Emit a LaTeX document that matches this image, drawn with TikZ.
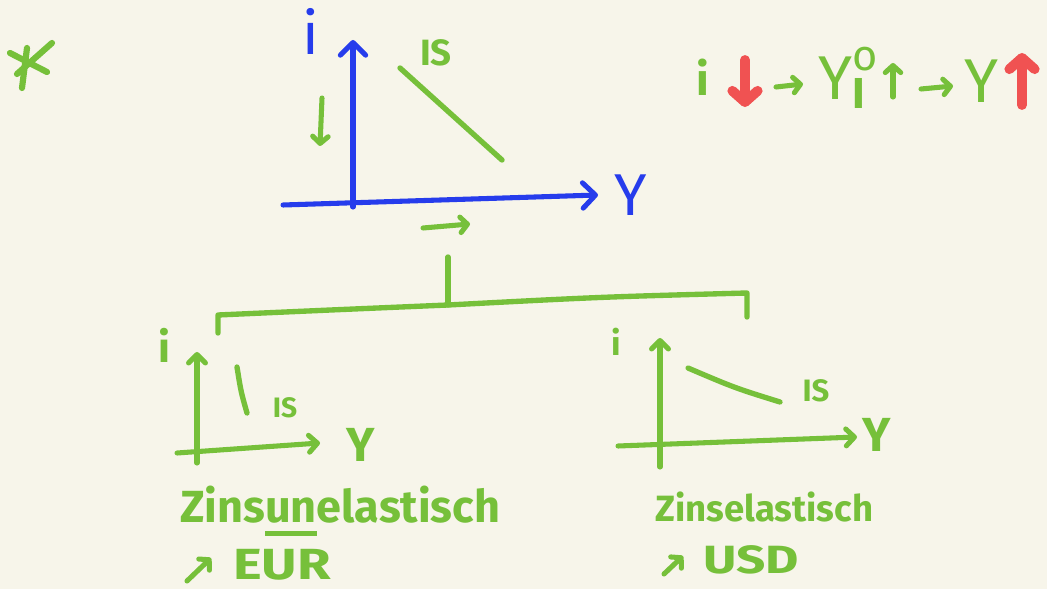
\documentclass[tikz,border=0pt]{standalone}
\usepackage{amsmath}
\usepackage{fontspec}
\setmainfont{Fira Sans}
\usetikzlibrary{arrows.meta}
\definecolor{paper}{RGB}{247,245,234}
\definecolor{pen}{RGB}{118,192,58}
\definecolor{ink}{RGB}{38,60,236}
\definecolor{marker}{RGB}{240,82,82}
\newcommand{\lowbar}[1]{\smash{\vtop{\hbox{#1}\kern5pt\hrule height 3.5pt}}}

\begin{document}
\begin{tikzpicture}[x=0.025cm, y=-0.025cm, line cap=round, line join=round,
  handsize/.style={font=\bfseries\fontsize{#1}{#1}\selectfont},
  thinsize/.style={font=\mdseries\fontsize{#1}{#1}\selectfont},
  hand/.style={text=pen, inner sep=0pt},
  bluehand/.style={text=ink, inner sep=0pt},
  greenline/.style={draw=pen, line width=3.8pt},
  blueaxis/.style={draw=ink, line width=3.6pt, -{Straight Barb[length=9pt,width=18pt,round]}},
  greenaxis/.style={draw=pen, line width=3.6pt, -{Straight Barb[length=6pt,width=12pt,round]}},
  greenarrow/.style={draw=pen, line width=3.6pt, -{Straight Barb[length=5pt,width=11pt,round]}},
  redarrow/.style={draw=marker, line width=7pt, -{Straight Barb[length=8pt,width=18pt,round]}}]

\fill[paper] (0,0) rectangle (1047,589);
\useasboundingbox (0,0) rectangle (1047,589);

% asterisk
\draw[greenline, line width=4.4pt] (10,53) -- (47,72);
\draw[greenline, line width=4.4pt] (52,43) -- (17,74);
\draw[greenline, line width=4.4pt] (27,48) -- (22,88);

% top diagram
\coordinate (o) at (353,207);
\draw[blueaxis] (o) -- (353,40);
\draw[blueaxis] (283,205) -- (598,195);
\node[bluehand, thinsize=42] (ti) at (311,31) {i};
\node[bluehand, thinsize=42] (tY) at (631,195) {Y};
\node[hand, handsize=26] (tis) at (436,53) {IS};
\draw[greenline] (400,68) -- (502,160);
\draw[greenarrow] (322,98) -- (320,146);
\draw[greenarrow] (423,228) -- (470,224);

% chain of effects
\node[hand, handsize=32, anchor=base] (ci) at (703,96) {i};
\draw[redarrow] (745,60) -- (745,107);
\draw[greenarrow] (776,87) -- (803,84);
\node[hand, thinsize=44, anchor=base west] (cyi) at (818,100) {$\text{Y}^{\text{o}}_{\textbf{I}}$};
\draw[greenarrow] (893,97) -- (893,63);
\draw[greenarrow] (921,89) -- (953,86);
\node[hand, thinsize=44, anchor=base] (cy) at (982,103) {Y};
\draw[redarrow] (1022,105) -- (1022,53);

% bracket
\coordinate (stem) at (448,305);
\draw[greenline] (448,257) -- (stem);
\draw[greenline] (218,333) -- (218,315) .. controls (330,310) .. (stem)
  .. controls (600,297) .. (747,293) -- (747,317);

% lower left diagram
\draw[greenaxis] (197,463) -- (197,352);
\draw[greenaxis] (177,453) -- (320,443);
\node[hand, handsize=30] (li) at (164,345) {i};
\node[hand, handsize=34] (lY) at (361,445) {Y};
\node[hand, handsize=20] (lis) at (285,408) {IS};
\draw[greenline] (237,367) .. controls (241,392) .. (247,413);
\node[hand, handsize=32, anchor=base west] (unel) at (180,523) {Zins\lowbar{un}elastisch};
\coordinate (eurtail) at (187,581);
\draw[greenarrow] (eurtail) -- (211,558);
\node[hand, handsize=31, anchor=base west] (eur) at (233,580) {\scalebox{1.25}[1]{EUR}};

% lower right diagram
\draw[greenaxis] (660,467) -- (660,338);
\draw[greenaxis] (618,446) -- (857,437);
\node[hand, handsize=24] (ri) at (616,342) {i};
\node[hand, handsize=34] (rY) at (877,435) {Y};
\node[hand, handsize=22] (ris) at (816,391) {IS};
\draw[greenline] (688,368) .. controls (735,388) .. (780,402);
\node[hand, handsize=26, anchor=base west] (elas) at (655,522) {Zinselastisch};
\coordinate (usdtail) at (664,574);
\draw[greenarrow] (usdtail) -- (683,556);
\node[hand, handsize=28, anchor=base west] (usd) at (703,573) {\scalebox{1.3}[1]{USD}};

\end{tikzpicture}
\end{document}
